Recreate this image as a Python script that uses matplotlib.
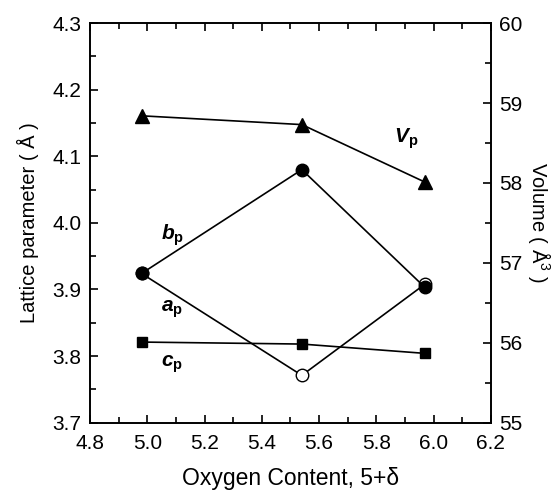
import matplotlib
matplotlib.use("Agg")
import matplotlib.pyplot as plt
from matplotlib.ticker import MultipleLocator, FormatStrFormatter

plt.rcParams['font.family'] = ['Liberation Sans', 'DejaVu Sans']
plt.rcParams['mathtext.fontset'] = 'custom'
plt.rcParams['mathtext.rm'] = 'Liberation Sans'
plt.rcParams['mathtext.bf'] = 'Liberation Sans:bold'
plt.rcParams['mathtext.it'] = 'Liberation Sans:italic'
plt.rcParams['mathtext.bfit'] = 'Liberation Sans:italic:bold'

oxygen = [4.98, 5.54, 5.97]
a_p = [3.924, 3.771, 3.908]
b_p = [3.924, 4.080, 3.903]
c_p = [3.821, 3.818, 3.804]
volume = [58.84, 58.73, 58.01]

fig = plt.figure(figsize=(5.59, 4.92), dpi=100)
ax = fig.add_axes([0.161, 0.141, 0.717, 0.812])
ax2 = ax.twinx()

ax.plot(oxygen, a_p, "k-", marker="o", mfc="white", mec="k", ms=9, lw=1.2)
ax.plot(oxygen, b_p, "k-", marker="o", mfc="k", ms=9, lw=1.2)
ax.plot(oxygen, c_p, "k-", marker="s", mfc="k", ms=7, lw=1.2)
ax2.plot(oxygen, volume, "k-", marker="^", mfc="k", ms=10, lw=1.2)

ax.set_xlim(4.8, 6.2)
ax.set_ylim(3.7, 4.3)
ax2.set_ylim(55, 60)

ax.xaxis.set_major_locator(MultipleLocator(0.2))
ax.xaxis.set_minor_locator(MultipleLocator(0.1))
ax.yaxis.set_major_locator(MultipleLocator(0.1))
ax.yaxis.set_minor_locator(MultipleLocator(0.05))
ax2.yaxis.set_major_locator(MultipleLocator(1))
ax2.yaxis.set_minor_locator(MultipleLocator(0.5))
ax.xaxis.set_major_formatter(FormatStrFormatter("%.1f"))
ax.yaxis.set_major_formatter(FormatStrFormatter("%.1f"))

ax.tick_params(which="both", direction="in", top=True, labelsize=15, width=1.2)
ax.tick_params(which="major", length=6)
ax.tick_params(which="minor", length=4)
ax.tick_params(axis="x", pad=8)
ax.tick_params(axis="y", right=False, pad=6)
ax2.tick_params(which="both", direction="in", labelsize=15, width=1.2, pad=6)
ax2.tick_params(which="major", length=6)
ax2.tick_params(which="minor", length=4)

for sp in list(ax.spines.values()) + list(ax2.spines.values()):
    sp.set_linewidth(1.2)

ax.set_xlabel("Oxygen Content, 5+δ", fontsize=16.5, labelpad=10)
ax.set_ylabel("Lattice parameter ( Å )", fontsize=14.5, labelpad=10)
ax2.set_ylabel("Volume ( Å$^3$ )", fontsize=14.5, rotation=270, labelpad=22)

ax.text(5.088, 3.982, "$\\boldsymbol{b}_\\mathbf{p}$", fontsize=15, ha="center", va="center")
ax.text(5.088, 3.870, "$\\boldsymbol{a}_\\mathbf{p}$", fontsize=15, ha="center", va="center")
ax.text(5.088, 3.788, "$\\boldsymbol{c}_\\mathbf{p}$", fontsize=15, ha="center", va="center")
ax.text(5.905, 4.126, "$\\boldsymbol{V}_\\mathbf{p}$", fontsize=15, ha="center", va="center")

fig.savefig("out.png", dpi=100)
